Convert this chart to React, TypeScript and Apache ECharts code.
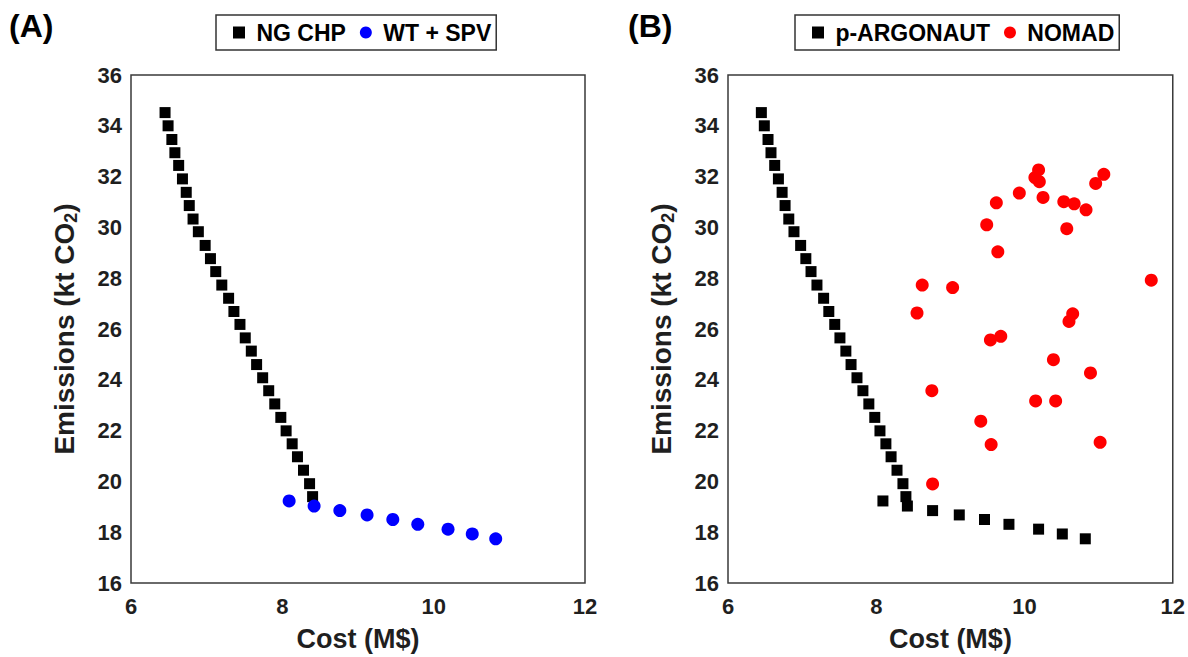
import React, { useEffect, useRef } from "react";
import * as echarts from "echarts";

const ngChpCost = [6.45, 6.49, 6.54, 6.58, 6.63, 6.68, 6.73, 6.77, 6.82, 6.89, 6.98, 7.05, 7.12, 7.2, 7.29, 7.36, 7.44, 7.51, 7.59, 7.66, 7.74, 7.82, 7.9, 7.98, 8.05, 8.13, 8.2, 8.28, 8.36, 8.4];
const ngChpEmis = [34.52, 34.0, 33.46, 32.94, 32.44, 31.91, 31.38, 30.86, 30.33, 29.83, 29.29, 28.77, 28.26, 27.73, 27.21, 26.69, 26.18, 25.65, 25.13, 24.6, 24.08, 23.57, 23.05, 22.52, 21.99, 21.48, 20.97, 20.44, 19.91, 19.4];
const wtSpvCost = [8.09, 8.42, 8.76, 9.12, 9.46, 9.79, 10.19, 10.51, 10.82];
const wtSpvEmis = [19.23, 19.03, 18.85, 18.68, 18.5, 18.31, 18.12, 17.93, 17.74];
const nomadCost = [10.19, 10.14, 10.2, 11.07, 10.96, 9.93, 10.25, 9.62, 10.53, 10.67, 10.83, 9.49, 10.57, 9.64, 11.71, 8.62, 9.03, 8.55, 10.65, 10.6, 9.54, 9.68, 10.39, 10.89, 8.75, 10.15, 10.42, 9.41, 9.55, 11.02, 8.76];
const nomadEmis = [32.26, 31.96, 31.8, 32.09, 31.73, 31.35, 31.18, 30.97, 31.01, 30.93, 30.69, 30.1, 29.95, 29.04, 27.92, 27.73, 27.63, 26.63, 26.6, 26.3, 25.57, 25.71, 24.79, 24.27, 23.57, 23.17, 23.17, 22.37, 21.45, 21.54, 19.9];
const xTicks = [6, 8, 10, 12];
const yTicks = [16, 18, 20, 22, 24, 26, 28, 30, 32, 34, 36];

const FONT = "Liberation Sans";
const TXT = "#1f1f1f";

const pairs = (xs: number[], ys: number[]) => xs.map((x, i) => [x, ys[i]]);

export default function App() {
  const ref = useRef<HTMLDivElement>(null);
  useEffect(() => {
    if (!ref.current) return;
    const chart = echarts.init(ref.current, undefined, { renderer: "svg" });
    const argCost = ngChpCost.concat(wtSpvCost);
    const argEmis = ngChpEmis.concat(wtSpvEmis);
    const mkX = (gi: number) => ({
      type: "value",
      gridIndex: gi,
      min: xTicks[0],
      max: xTicks[xTicks.length - 1],
      interval: 2,
      axisLine: { show: false },
      axisTick: { show: false },
      splitLine: { show: false },
      axisLabel: { fontSize: 22, fontWeight: "bold", color: TXT, fontFamily: FONT, margin: 12 },
      name: "Cost (M$)",
      nameLocation: "middle",
      nameGap: 42,
      nameTextStyle: { fontSize: 27, fontWeight: "bold", color: TXT, fontFamily: FONT },
    });
    const mkY = (gi: number) => ({
      type: "value",
      gridIndex: gi,
      min: yTicks[0],
      max: yTicks[yTicks.length - 1],
      interval: 2,
      axisLine: { show: false },
      axisTick: { show: false },
      splitLine: { show: false },
      axisLabel: { fontSize: 22, fontWeight: "bold", color: TXT, fontFamily: FONT, margin: 9 },
      name: "{b|Emissions (kt CO}{s|2}{b|)}",
      nameLocation: "middle",
      nameGap: 51,
      nameTextStyle: {
        fontSize: 28,
        fontWeight: "bold",
        color: TXT,
        fontFamily: FONT,
        rich: {
          b: { fontSize: 28, fontWeight: "bold", color: TXT, fontFamily: FONT, lineHeight: 32 },
          s: { fontSize: 18, fontWeight: "bold", color: TXT, fontFamily: FONT, verticalAlign: "bottom", lineHeight: 14, padding: [14, 0, 0, 0] },
        },
      },
    });
    const legendText = { fontSize: 23, fontWeight: "bold", color: "#000", fontFamily: FONT };
    const legendBase = {
      top: 15,
      itemWidth: 12,
      itemHeight: 12,
      itemGap: 14,
      padding: [6, 5, 6, 17],
      borderColor: "#333",
      borderWidth: 1.5,
      textStyle: legendText,
      formatter: (n: string) => " " + n,
    };
    chart.setOption({
      animation: false,
      title: [
        { text: "(A)", left: 9, top: 10, padding: 0, textStyle: { fontSize: 32, fontWeight: "bold", color: "#000", fontFamily: FONT } },
        { text: "(B)", left: 628, top: 10, padding: 0, textStyle: { fontSize: 32, fontWeight: "bold", color: "#000", fontFamily: FONT } },
      ],
      legend: [
        {
          ...legendBase,
          left: 216,
          data: [
            { name: "NG CHP", icon: "rect" },
            { name: "WT + SPV", icon: "circle" },
          ],
        },
        {
          ...legendBase,
          left: 795,
          data: [
            { name: "p-ARGONAUT", icon: "rect" },
            { name: "NOMAD", icon: "circle" },
          ],
        },
      ],
      grid: [
        { left: 131, top: 75, width: 454, height: 509, show: true, borderColor: "#3a3a3a", borderWidth: 1.5, backgroundColor: "#fff" },
        { left: 728, top: 75, width: 455, height: 509, show: true, borderColor: "#3a3a3a", borderWidth: 1.5, backgroundColor: "#fff" },
      ],
      xAxis: [mkX(0), mkX(1)],
      yAxis: [mkY(0), mkY(1)],
      series: [
        { name: "NG CHP", type: "scatter", xAxisIndex: 0, yAxisIndex: 0, symbol: "rect", symbolSize: 11, itemStyle: { color: "#000", opacity: 1 }, data: pairs(ngChpCost, ngChpEmis) },
        { name: "WT + SPV", type: "scatter", xAxisIndex: 0, yAxisIndex: 0, symbol: "circle", symbolSize: 13, itemStyle: { color: "#0000ff", opacity: 1 }, data: pairs(wtSpvCost, wtSpvEmis) },
        { name: "p-ARGONAUT", type: "scatter", xAxisIndex: 1, yAxisIndex: 1, symbol: "rect", symbolSize: 11, itemStyle: { color: "#000", opacity: 1 }, data: pairs(argCost, argEmis) },
        { name: "NOMAD", type: "scatter", xAxisIndex: 1, yAxisIndex: 1, symbol: "circle", symbolSize: 13, itemStyle: { color: "#ff0000", opacity: 1 }, data: pairs(nomadCost, nomadEmis) },
      ],
    });
    return () => chart.dispose();
  }, []);
  return <div ref={ref} style={{ position: "fixed", left: 0, top: 0, width: 1188, height: 657, background: "#fff" }} />;
}
